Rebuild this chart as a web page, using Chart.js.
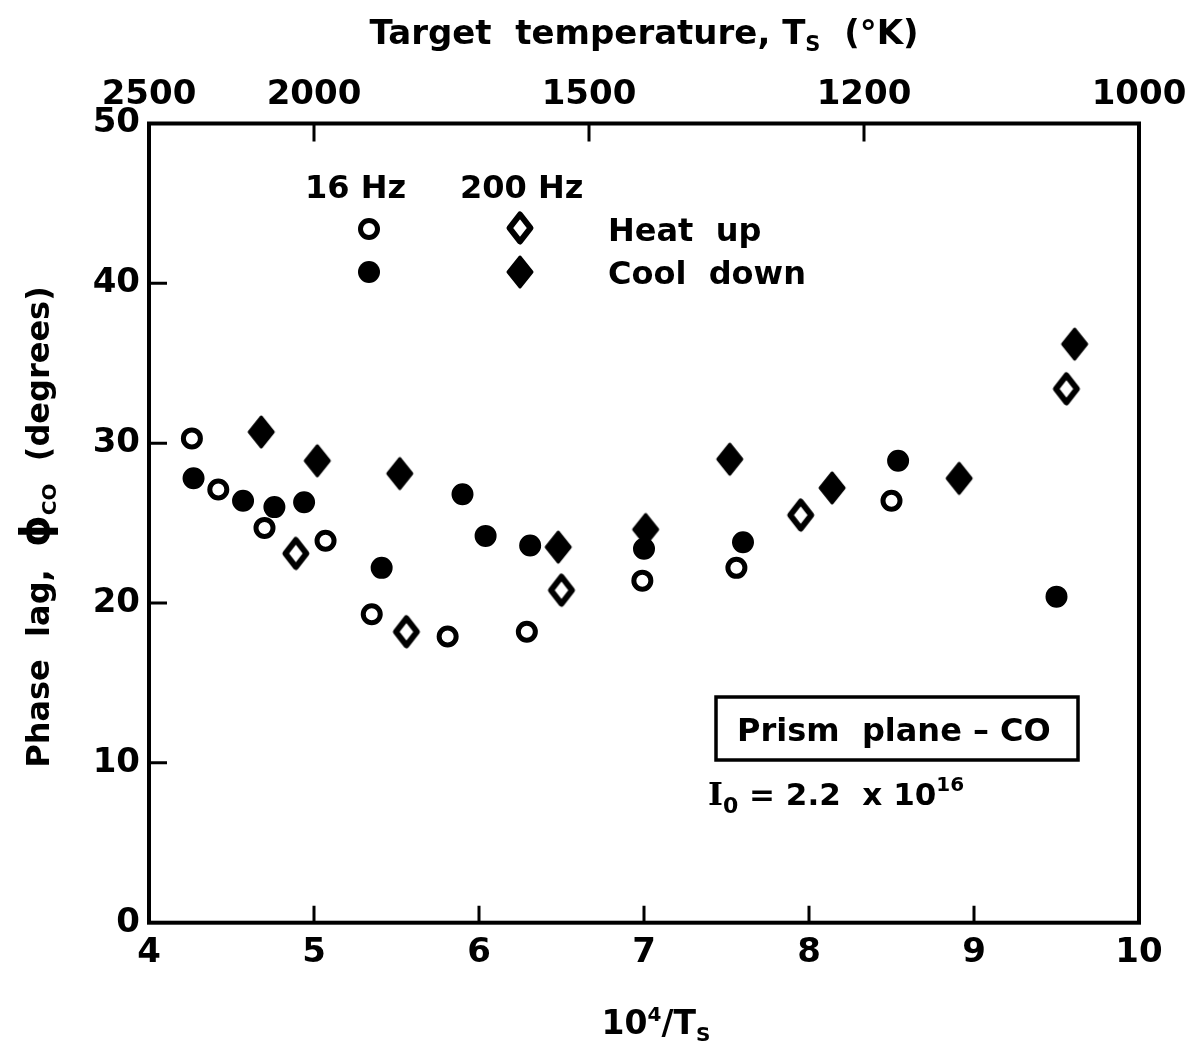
<!DOCTYPE html>
<html lang="en">
<head>
  <meta charset="UTF-8" />
  <title>Phase lag vs target temperature</title>
  <script src="https://cdn.jsdelivr.net/npm/chart.js"></script>
  <style>
    body { margin: 0; background: #fff; }
    canvas { display: block; }
  </style>
</head>
<body>
<canvas id="chart" width="1186" height="1050"></canvas>

<script>
// --- data (x = 10^4/Ts, y = phase lag in degrees) ---
const heat16X = [4.26, 4.42, 4.70, 5.07, 5.35, 5.81, 6.29, 6.99, 7.56, 8.50];
const heat16Y = [30.3, 27.1, 24.7, 23.9, 19.3, 17.9, 18.2, 21.4, 22.2, 26.4];

const cool16X = [4.27, 4.57, 4.76, 4.94, 5.41, 5.90, 6.04, 6.31, 7.00, 7.60, 8.54, 9.50];
const cool16Y = [27.8, 26.4, 26.0, 26.3, 22.2, 26.8, 24.2, 23.6, 23.4, 23.8, 28.9, 20.4];

const heat200X = [4.89, 5.56, 6.50, 7.95, 9.56];
const heat200Y = [23.1, 18.2, 20.8, 25.5, 33.4];

const cool200X = [4.68, 5.02, 5.52, 6.48, 7.01, 7.52, 8.14, 8.91, 9.61];
const cool200Y = [30.7, 28.9, 28.1, 23.5, 24.6, 29.0, 27.2, 27.8, 36.2];

// top axis: target temperature in K
const topTempLabels = [2500, 2000, 1500, 1200, 1000];

const FONT = "'DejaVu Sans'";
const INK = '#000';

function pts(xs, ys) {
  return xs.map((x, i) => ({ x: x, y: ys[i] }));
}

// tall rhombus markers (the built-in rectRot is a square)
function makeDiamond(filled) {
  const c = document.createElement('canvas');
  c.width = 30; c.height = 36;
  const g = c.getContext('2d');
  const hw = filled ? 12 : 10.5, hh = filled ? 15 : 13.5;
  g.beginPath();
  g.moveTo(15, 18 - hh); g.lineTo(15 + hw, 18); g.lineTo(15, 18 + hh); g.lineTo(15 - hw, 18);
  g.closePath();
  g.lineJoin = 'round';
  g.strokeStyle = INK; g.fillStyle = INK;
  g.lineWidth = filled ? 3 : 6;
  if (filled) g.fill();
  g.stroke();
  return c;
}
const openDiamond = makeDiamond(false);
const fullDiamond = makeDiamond(true);

// draws a line of text made of runs [text, size, dy, family]
function drawRuns(ctx, runs, x, y, align) {
  let total = 0;
  const w = runs.map(r => {
    ctx.font = 'bold ' + r[1] + 'px ' + (r[3] || FONT);
    const m = ctx.measureText(r[0]).width;
    total += m;
    return m;
  });
  let cx = align === 'center' ? x - total / 2 : x;
  runs.forEach((r, i) => {
    ctx.font = 'bold ' + r[1] + 'px ' + (r[3] || FONT);
    ctx.fillText(r[0], cx, y + (r[2] || 0));
    cx += w[i];
  });
}

const decor = {
  id: 'decor',
  afterDraw(chart) {
    const ctx = chart.ctx;
    const a = chart.chartArea;
    const sx = chart.scales.x, sy = chart.scales.y, st = chart.scales.xTop;
    ctx.save();
    ctx.strokeStyle = INK;
    ctx.fillStyle = INK;
    ctx.textAlign = 'left';
    ctx.textBaseline = 'alphabetic';

    // frame
    ctx.lineWidth = 4;
    ctx.strokeRect(a.left, a.top, a.right - a.left, a.bottom - a.top);

    // inward tick marks
    ctx.lineWidth = 3;
    ctx.beginPath();
    sx.ticks.forEach(t => {
      if (t.value <= sx.min || t.value >= sx.max) return;
      const px = sx.getPixelForValue(t.value);
      ctx.moveTo(px, a.bottom); ctx.lineTo(px, a.bottom - 17);
    });
    sy.ticks.forEach(t => {
      if (t.value <= sy.min || t.value >= sy.max) return;
      const py = sy.getPixelForValue(t.value);
      ctx.moveTo(a.left, py); ctx.lineTo(a.left + 18, py);
    });
    st.ticks.forEach(t => {
      if (t.value <= st.min + 0.01 || t.value >= st.max - 0.01) return;
      const px = st.getPixelForValue(t.value);
      ctx.moveTo(px, a.top); ctx.lineTo(px, a.top + 18);
    });
    ctx.stroke();

    // axis titles
    drawRuns(ctx, [['Target  temperature, T', 34], ['S', 21, 7], ['  (°K)', 34]], 644, 44, 'center');
    drawRuns(ctx, [['10', 33], ['4', 20, -13], ['/T', 33], ['S', 20, 7]], 656, 1034, 'center');
    ctx.save();
    ctx.translate(49, 527);
    ctx.rotate(-Math.PI / 2);
    drawRuns(ctx, [['Phase  lag,  ', 32], ['ϕ', 40], ['CO', 20, 7], ['  (degrees)', 32]], 0, 0, 'center');
    ctx.restore();

    // legend block
    drawRuns(ctx, [['16 Hz', 32]], 305, 198, 'left');
    drawRuns(ctx, [['200 Hz', 32]], 460, 198, 'left');
    drawRuns(ctx, [['Heat  up', 32]], 608, 241, 'left');
    drawRuns(ctx, [['Cool  down', 32]], 608, 284, 'left');
    ctx.lineWidth = 5;
    ctx.beginPath(); ctx.arc(369, 229, 8.5, 0, Math.PI * 2); ctx.stroke();
    ctx.beginPath(); ctx.arc(369, 272, 11, 0, Math.PI * 2); ctx.fill();
    ctx.drawImage(openDiamond, 520 - 15, 228 - 18);
    ctx.drawImage(fullDiamond, 520 - 15, 272 - 18);

    // label box
    ctx.lineWidth = 3.5;
    ctx.strokeRect(716, 697, 362, 63);
    drawRuns(ctx, [['Prism  plane – CO', 32]], 737, 741, 'left');
    drawRuns(ctx, [['I', 32, 0, "'DejaVu Serif'"], ['0', 22, 8], [' = 2.2  x 10', 31], ['16', 20, -14]], 708, 805, 'left');

    ctx.restore();
  }
};

const tickFont = { family: FONT, size: 34, weight: 'bold' };

new Chart(document.getElementById('chart'), {
  type: 'scatter',
  data: {
    datasets: [
      {
        label: '16 Hz heat up',
        data: pts(heat16X, heat16Y),
        pointStyle: 'circle',
        pointRadius: 8.5,
        borderWidth: 5,
        borderColor: INK,
        backgroundColor: 'rgba(0,0,0,0)'
      },
      {
        label: '16 Hz cool down',
        data: pts(cool16X, cool16Y),
        pointStyle: 'circle',
        pointRadius: 10,
        borderWidth: 2,
        borderColor: INK,
        backgroundColor: INK
      },
      {
        label: '200 Hz heat up',
        data: pts(heat200X, heat200Y),
        pointStyle: openDiamond,
        pointRadius: 15
      },
      {
        label: '200 Hz cool down',
        data: pts(cool200X, cool200Y),
        pointStyle: fullDiamond,
        pointRadius: 15
      }
    ]
  },
  options: {
    responsive: false,
    animation: false,
    devicePixelRatio: 1,
    layout: { padding: { left: 0, top: 0, right: 47, bottom: 0 } },
    plugins: { legend: { display: false }, tooltip: { enabled: false } },
    scales: {
      x: {
        type: 'linear',
        position: 'bottom',
        min: 4,
        max: 10,
        grid: { display: false },
        border: { display: false },
        ticks: { stepSize: 1, font: tickFont, color: INK, padding: 2, maxRotation: 0 },
        afterFit: s => { s.height = 127.3; s.paddingLeft = 0; s.paddingRight = 0; }
      },
      xTop: {
        type: 'linear',
        position: 'top',
        min: 4,
        max: 10,
        grid: { display: false },
        border: { display: false },
        afterBuildTicks: s => { s.ticks = topTempLabels.map(t => ({ value: 1e4 / t })); },
        ticks: {
          font: tickFont,
          color: INK,
          padding: 0,
          maxRotation: 0,
          autoSkip: false,
          callback: (v, i) => topTempLabels[i]
        },
        afterFit: s => { s.height = 123.5; s.paddingLeft = 0; s.paddingRight = 0; }
      },
      y: {
        type: 'linear',
        min: 0,
        max: 50,
        grid: { display: false },
        border: { display: false },
        ticks: { stepSize: 10, font: tickFont, color: INK, padding: 1 },
        afterFit: s => { s.width = 149; s.paddingTop = 0; s.paddingBottom = 0; }
      }
    }
  },
  plugins: [decor]
});
</script>
</body>
</html>
